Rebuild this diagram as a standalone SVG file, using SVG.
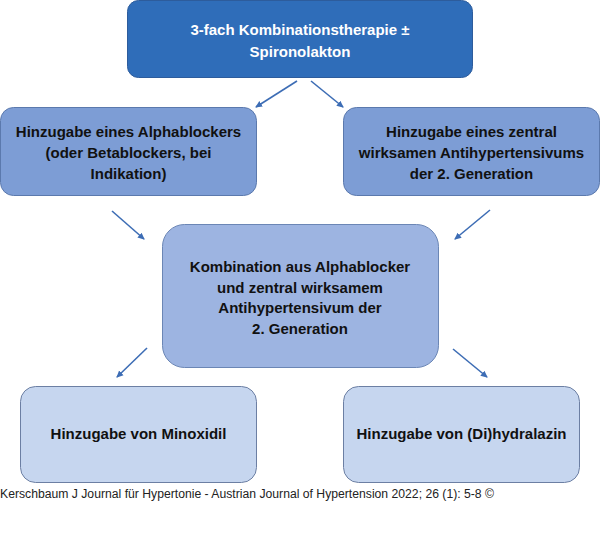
<svg xmlns="http://www.w3.org/2000/svg" width="600" height="543" viewBox="0 0 600 543">
<defs>
<marker id="ah" markerWidth="8" markerHeight="8" refX="6" refY="4" orient="auto" markerUnits="userSpaceOnUse">
<path d="M0,0.8 L7,4 L0,7.2 Z" fill="#3D6DB5"/>
</marker>
</defs>
<style>
.t{font-family:"Liberation Sans",Arial,sans-serif;font-weight:bold;font-size:15px;text-anchor:middle;fill:#111}
.w{fill:#ffffff}
.c{stroke:#3D6DB5;stroke-width:1.6;fill:none;marker-end:url(#ah)}
.l1{fill:#2F6DB9;stroke:#2D5C9C;stroke-width:1}
.l2{fill:#7D9DD5;stroke:#5B79AD;stroke-width:1}
.l3{fill:#9DB4E1;stroke:#6B86B5;stroke-width:1}
.l4{fill:#C6D6EF;stroke:#6C7FA3;stroke-width:1}
.cap{font-family:"Liberation Sans",Arial,sans-serif;font-size:12px;fill:#222}
</style>
<rect width="600" height="543" fill="#ffffff"/>
<g id="connectors">
<line class="c" x1="297" y1="81" x2="256" y2="107"/>
<line class="c" x1="311" y1="81" x2="343" y2="107"/>
<line class="c" x1="112" y1="211" x2="144" y2="239"/>
<line class="c" x1="490" y1="210" x2="455" y2="239"/>
<line class="c" x1="147" y1="348" x2="117" y2="377"/>
<line class="c" x1="453" y1="349" x2="487" y2="377"/>
</g>
<g id="n1">
<rect class="l1" x="127.5" y="0.5" width="345" height="77" rx="11"/>
<text class="t w" x="300" y="35">3-fach Kombinationstherapie ±</text>
<text class="t w" x="300" y="57">Spironolakton</text>
</g>
<g id="n2">
<rect class="l2" x="0.5" y="107.5" width="256" height="88" rx="13"/>
<text class="t" x="128.5" y="137">Hinzugabe eines Alphablockers</text>
<text class="t" x="128.5" y="158">(oder Betablockers, bei</text>
<text class="t" x="128.5" y="179">Indikation)</text>
</g>
<g id="n3">
<rect class="l2" x="343.5" y="107.5" width="256" height="88" rx="13"/>
<text class="t" x="471.5" y="137">Hinzugabe eines zentral</text>
<text class="t" x="471.5" y="158">wirksamen Antihypertensivums</text>
<text class="t" x="471.5" y="179">der 2. Generation</text>
</g>
<g id="n4">
<rect class="l3" x="162.5" y="224.5" width="276" height="143" rx="22"/>
<text class="t" x="300" y="272">Kombination aus Alphablocker</text>
<text class="t" x="300" y="292.5">und zentral wirksamem</text>
<text class="t" x="300" y="313">Antihypertensivum der</text>
<text class="t" x="300" y="333.5">2. Generation</text>
</g>
<g id="n5">
<rect class="l4" x="20.5" y="386.5" width="236" height="96" rx="15"/>
<text class="t" x="138.5" y="439">Hinzugabe von Minoxidil</text>
</g>
<g id="n6">
<rect class="l4" x="343.5" y="386.5" width="236" height="96" rx="15"/>
<text class="t" x="461.5" y="439">Hinzugabe von (Di)hydralazin</text>
</g>
<text class="cap" x="0" y="498" textLength="494" lengthAdjust="spacingAndGlyphs">Kerschbaum J Journal für Hypertonie - Austrian Journal of Hypertension 2022; 26 (1): 5-8 ©</text>
</svg>
